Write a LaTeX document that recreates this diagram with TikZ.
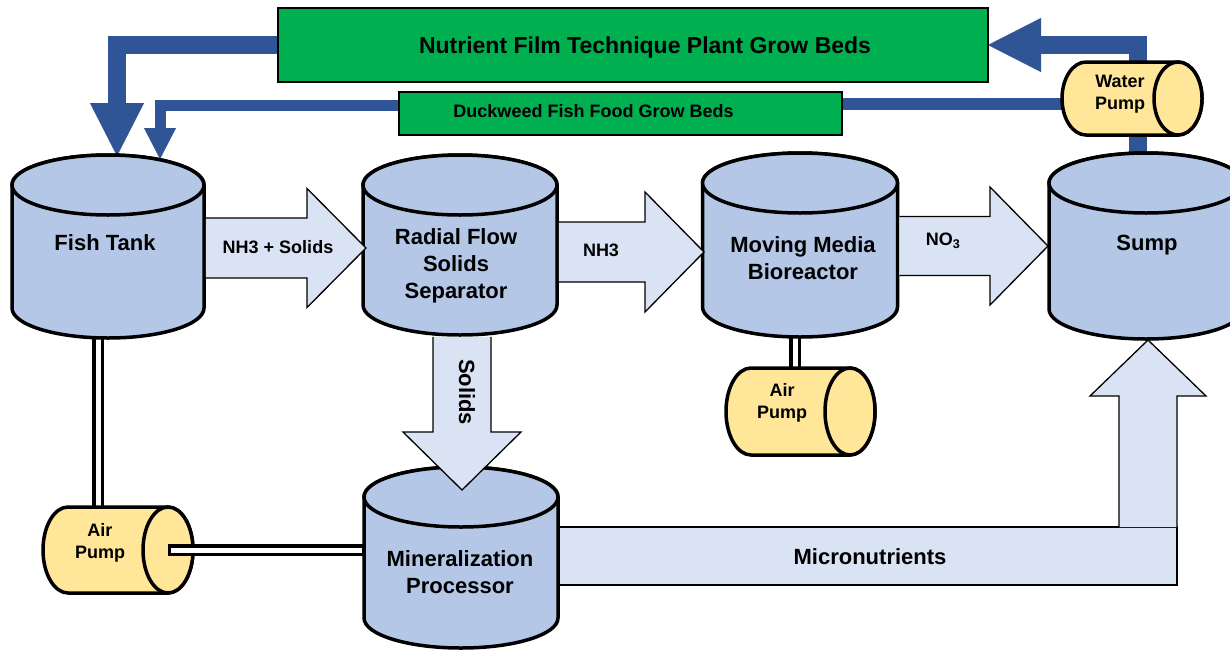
\documentclass[tikz,border=0pt]{standalone}
\usepackage{fontspec}
\setmainfont{Liberation Sans}
\usetikzlibrary{arrows.meta,calc}
\definecolor{tankfill}{HTML}{B4C7E7}
\definecolor{blkfill}{HTML}{DAE3F3}
\definecolor{pumpfill}{HTML}{FFE699}
\definecolor{bedgreen}{HTML}{00B050}
\definecolor{pipeblue}{HTML}{2F5597}
\pgfdeclarelayer{back}
\pgfdeclarelayer{bg}
\pgfsetlayers{back,bg,main}
% #1 name, #2 cx, #3 top cy, #4 bottom cy, #5 rx, #6 ry
\newcommand\tank[6]{%
  \node[frame, minimum width={2*#5}, minimum height={#4-#3+2*#6}] (#1) at (#2,{(#3+#4)/2}) {};
  \filldraw[tankst] ({#2-#5},#3) -- ({#2-#5},#4) arc[start angle=180,end angle=0,x radius=#5,y radius=#6] -- ({#2+#5},#3) arc[start angle=0,end angle=-180,x radius=#5,y radius=#6] -- cycle;
  \draw[tankst] (#2,#3) ellipse[x radius=#5,y radius=#6];
}
% #1 name, #2 left, #3 right, #4 cy, #5 ry, #6 rx
\newcommand\pump[6]{%
  \node[frame, minimum width={#3-#2}, minimum height={2*#5}] (#1) at ({(#2+#3)/2},#4) {};
  \filldraw[pumpst] ({#3-#6},{#4-#5}) -- ({#2+#6},{#4-#5}) arc[start angle=-90,end angle=-270,x radius=#6,y radius=#5] -- ({#3-#6},{#4+#5}) arc[start angle=90,end angle=-90,x radius=#6,y radius=#5] -- cycle;
  \draw[pumpst] ({#3-#6},#4) ellipse[x radius=#6,y radius=#5];
}
% right block arrow: #1 tail x, #2 head base x, #3 tip x, #4 yc, #5 shaft half, #6 head half
\newcommand\rarrow[6]{%
  \fill[blkf] (#1,{#4-#5}) -- (#2,{#4-#5}) -- (#2,{#4-#6}) -- (#3,#4) -- (#2,{#4+#6}) -- (#2,{#4+#5}) -- (#1,{#4+#5}) -- cycle;
  \draw[blkl] (#1,{#4-#5}) -- (#2,{#4-#5}) -- (#2,{#4-#6}) -- (#3,#4) -- (#2,{#4+#6}) -- (#2,{#4+#5}) -- (#1,{#4+#5});
}
\begin{document}
\begin{tikzpicture}[x=1pt,y=-1pt,
  frame/.style={inner sep=0pt,outer sep=0pt,draw=none,rectangle},
  tankst/.style={draw=black,line width=3.5pt,fill=tankfill},
  pumpst/.style={draw=black,line width=3.5pt,fill=pumpfill},
  bed/.style={draw=black,line width=2pt,fill=bedgreen,inner sep=0pt,outer sep=0pt},
  blkf/.style={fill=blkfill},
  blkl/.style={draw=black,line width=1.3pt,line join=miter},
  bigpipe/.style={draw=pipeblue,line width=18pt,line join=miter,-{Triangle[width=54pt,length=53pt,line width=0.1pt]}},
  thinpipe/.style={draw=pipeblue,line width=11pt,line join=miter,-{Triangle[width=32pt,length=31pt,line width=0.1pt]}},
  plainpipe/.style={draw=pipeblue,line width=12pt},
  dblo/.style={draw=black,line width=12pt},
  dbli/.style={draw=white,line width=5pt},
  lbl/.style={font=\fontsize{22}{27}\selectfont\bfseries,align=center,inner sep=0pt},
  slbl/.style={font=\fontsize{18}{22}\selectfont\bfseries,align=center,inner sep=0pt}
]
\useasboundingbox (0,0) rectangle (1230,651);
\begin{pgfonlayer}{back}
  \fill[white] (0,0) rectangle (1230,651);
\end{pgfonlayer}

% grow beds
\node[bed, minimum width=710, minimum height=74] (nft) at (633,45) {};
\node[bed, minimum width=443, minimum height=43] (duck) at (620.5,113.5) {};

% tanks
\tank{fish}{108}{185}{308}{96}{30}
\tank{radial}{460}{185}{305}{97}{30}
\tank{moving}{800}{183}{307}{97.5}{30}
\tank{sump}{1146}{183}{309}{97}{30}
\tank{mineral}{461}{497}{618}{97}{30}

% pumps
\pump{wp}{1062}{1202}{98.5}{36.5}{24}
\pump{ap1}{43}{193}{550}{43}{25}
\pump{ap2}{726}{875}{411.5}{43.5}{25}

% pipes and air lines (behind)
\begin{pgfonlayer}{bg}
  \draw[bigpipe] (nft.west) -| ([xshift=9pt,yshift=-1pt]fish.north);
  \draw[thinpipe] ([yshift=8pt]duck.west) -| ([xshift=52pt,yshift=-4pt]fish.north);
  \draw[bigpipe] ([xshift=-8.5pt,yshift=-10pt]sump.north) |- (nft.east);
  \draw[plainpipe] ([yshift=-5pt]wp.center) -- ([yshift=-5pt]wp.center -| duck.east);
  \draw[dblo] ([xshift=-20pt]ap1.north) -- ([xshift=-20pt]ap1.north |- fish.south);
  \draw[dbli] ([xshift=-20pt]ap1.north) -- ([xshift=-20pt]ap1.north |- fish.south);
  \draw[dblo] ([xshift=-5.5pt]ap2.north) -- ([xshift=-5.5pt]ap2.north |- moving.south);
  \draw[dbli] ([xshift=-5.5pt]ap2.north) -- ([xshift=-5.5pt]ap2.north |- moving.south);
\end{pgfonlayer}
\coordinate (apout) at (168,550);
\draw[dblo] (apout) -- (apout -| mineral.west);
\draw[dbli] ([xshift=3pt]apout) -- ([xshift=-1.75pt]apout -| mineral.west);

% block arrows
\rarrow{205.75}{307}{366}{248}{30}{59.5}
\rarrow{558.75}{645}{704}{252}{30}{60}
\rarrow{899.25}{990}{1048}{246}{29.5}{59}
\fill[blkf] (433,336.75) -- (433,432) -- (403,432) -- (462,490) -- (521,432) -- (491,432) -- (491,336.75) -- cycle;
\draw[blkl] (433,336.75) -- (433,432) -- (403,432) -- (462,490) -- (521,432) -- (491,432) -- (491,336.75);
\fill[blkf] (559.75,527) rectangle (1177,585);
\draw[blkl] (559.75,527) -- (1177,527) -- (1177,585) -- (559.75,585);
\fill[blkf] (1119,527) -- (1119,396) -- (1090,396) -- (1148,340) -- (1206,396) -- (1177,396) -- (1177,527) -- cycle;
\draw[blkl] (1119,527) -- (1119,396) -- (1090,396) -- (1148,340) -- (1206,396) -- (1177,396) -- (1177,527);

% texts
\node[lbl, font=\fontsize{23}{27}\selectfont\bfseries] (tnft) at (645,48) {Nutrient Film Technique Plant Grow Beds};
\node[slbl] (tduck) at (593.5,111) {Duckweed Fish Food Grow Beds};
\node[lbl] (tfish) at (105,243) {Fish Tank};
\node[lbl] (tradial) at (456,266) {Radial Flow\\Solids\\Separator};
\node[lbl] (tmoving) at (803,258.5) {Moving Media\\Bioreactor};
\node[lbl] (tsump) at (1147,245) {Sump};
\node[lbl] (tmineral) at (460,572) {Mineralization\\Processor};
\node[slbl] (twp) at (1120,94) {Water\\Pump};
\node[slbl] (tap1) at (100,543) {Air\\Pump};
\node[slbl] (tap2) at (782,403) {Air\\Pump};
\node[slbl] (tnh3s) at (278,247) {NH3 + Solids};
\node[slbl] (tnh3) at (601,250) {NH3};
\node[slbl] (tno3) at (943,241) {NO\textsubscript{3}};
\node[lbl, rotate=-90] (tsolids) at (467,392) {Solids};
\node[lbl] (tmicro) at (870,557) {Micronutrients};
\end{tikzpicture}
\end{document}
